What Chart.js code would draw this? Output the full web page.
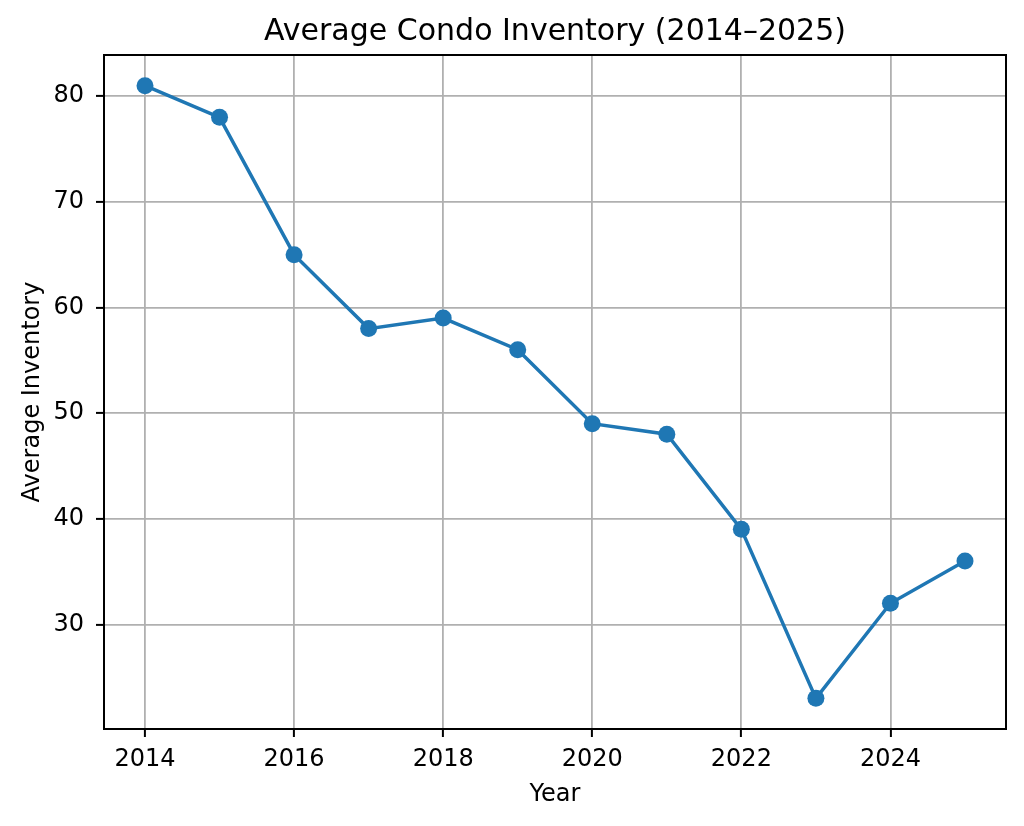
<!DOCTYPE html>
<html>
<head>
<meta charset="utf-8">
<script src="https://cdn.jsdelivr.net/npm/chart.js@4"></script>
<style>
html,body{margin:0;padding:0;background:#fff;}
#wrap{width:1024px;height:826px;}
</style>
</head>
<body>
<div id="wrap"><canvas id="c" width="1024" height="826"></canvas></div>
<script>
const years = [2014,2015,2016,2017,2018,2019,2020,2021,2022,2023,2024,2025];
const inventory = [81,78,65,58,59,56,49,48,39,23,32,36];
const xTicks = [2014,2016,2018,2020,2022,2024];
const yTicks = [30,40,50,60,70,80];

const frame = {
  id:'frame',
  afterDraw(chart){
    const {ctx, chartArea:a} = chart;
    ctx.save();
    ctx.strokeStyle='#000';
    ctx.lineWidth=2;
    ctx.strokeRect(a.left,a.top,a.right-a.left,a.bottom-a.top);
    ctx.restore();
  }
};

const FAM = '"DejaVu Sans", sans-serif';
const tickFont = {family:FAM, size:24};
new Chart(document.getElementById('c'), {
  type:'line',
  data:{
    datasets:[{
      data: years.map((y,i)=>({x:y,y:inventory[i]})),
      borderColor:'#1f77b4',
      backgroundColor:'#1f77b4',
      borderWidth:3.5,
      pointRadius:8.5,
      pointHoverRadius:8.5,
      pointBorderWidth:0,
      tension:0
    }]
  },
  options:{
    responsive:false,
    animation:false,
    layout:{padding:{left:0,right:18,top:0,bottom:0}},
    plugins:{
      legend:{display:false},
      tooltip:{enabled:false},
      title:{display:true,fullSize:false,text:'Average Condo Inventory (2014–2025)',color:'#000',
        font:{family:FAM,size:30,weight:'normal'},padding:{top:14,bottom:5}}
    },
    scales:{
      x:{
        type:'linear',min:2013.45,max:2025.55,
        afterBuildTicks(s){s.ticks=xTicks.map(v=>({value:v}));},
        afterFit(s){s.height=97;},
        grid:{color:'#b0b0b0',lineWidth:1.8,tickColor:'#000',tickLength:8,tickWidth:2},
        border:{display:false},
        ticks:{color:'#000',font:tickFont,padding:8,maxRotation:0,callback:v=>String(v)},
        title:{display:true,text:'Year',color:'#000',font:{family:FAM,size:24},padding:{top:0,bottom:17}}
      },
      y:{
        type:'linear',min:20.1,max:83.9,
        afterBuildTicks(s){s.ticks=yTicks.map(v=>({value:v}));},
        afterFit(s){s.width=104;},
        grid:{color:'#b0b0b0',lineWidth:1.8,tickColor:'#000',tickLength:8,tickWidth:2},
        border:{display:false},
        ticks:{color:'#000',font:tickFont,padding:12,callback:v=>String(v)},
        title:{display:true,text:'Average Inventory',color:'#000',font:{family:FAM,size:24},padding:{top:18,bottom:0}}
      }
    }
  },
  plugins:[frame]
});
</script>
</body>
</html>
